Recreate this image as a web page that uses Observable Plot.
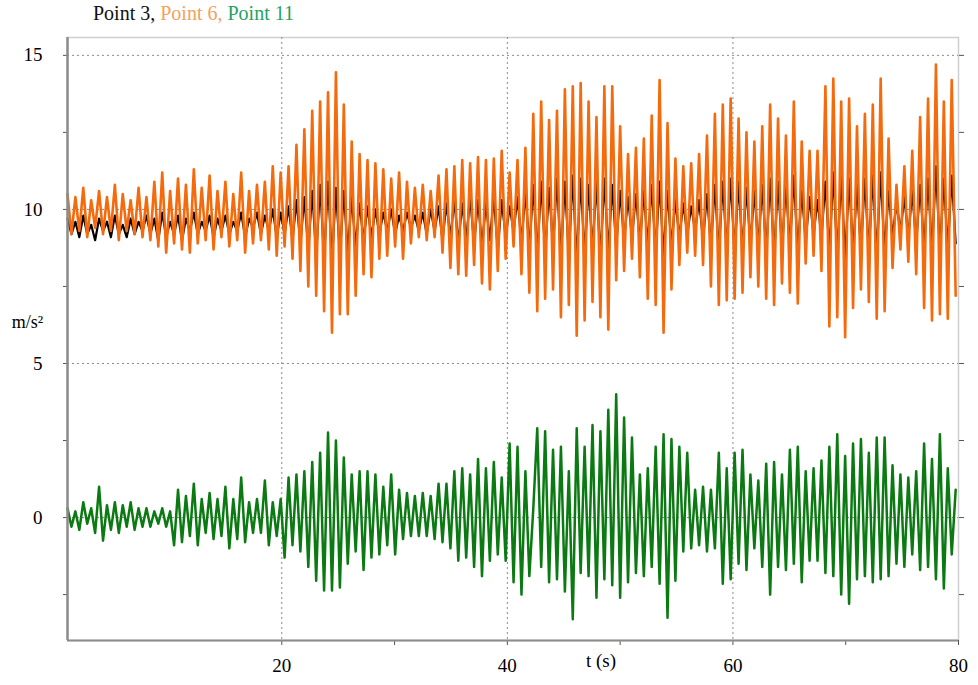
<!DOCTYPE html>
<html><head><meta charset="utf-8">
<script src="https://cdn.jsdelivr.net/npm/d3@7"></script>
<script src="https://cdn.jsdelivr.net/npm/@observablehq/plot@0.6"></script>
<style>
body{margin:0;background:#fff;font-family:"Liberation Serif","Times New Roman",serif;}
#wrap{position:relative;width:978px;height:685px;overflow:hidden;}
#title{position:absolute;left:93px;top:3px;font-size:20px;line-height:1;white-space:nowrap;}
#chart{position:absolute;left:0;top:0;}
</style></head><body>
<div id="wrap">
<div id="chart"></div>
<div id="title"><span style="color:#111">Point 3, </span><span style="color:#f2a25c">Point 6, </span><span style="color:#1fa35f">Point 11</span></div>
</div>
<script>
// sampling: first sample time (s) and step (s)
const t0 = 1, dt = 0.35;
const seriesNames = ["Point 3", "Point 6", "Point 11"];
const seriesColors = ["#000000", "#f46a0c", "#0b7a12"];

// Point 3 (m/s^2)
const point3 = [
9.7,9.2,9.6,9.1,9.8,9.2,9.5,9.0,9.7,9.3,
9.6,9.1,9.8,9.2,9.5,9.1,9.7,9.2,9.6,9.3,
9.8,9.2,9.7,9.0,9.9,9.1,9.6,9.2,9.8,9.0,
9.7,9.3,9.9,9.2,9.6,9.3,9.8,9.1,9.7,9.3,
9.8,9.2,9.6,9.3,9.9,9.1,9.7,9.4,9.9,9.2,
9.8,9.3,10.0,9.1,9.9,9.2,10.1,9.0,10.3,8.9,
10.4,8.7,10.6,8.5,10.8,8.4,10.9,8.3,10.7,8.5,
10.6,8.6,10.4,8.8,10.2,9.0,10.1,9.1,10.0,9.2,
9.9,9.3,10.0,9.2,9.8,9.3,9.9,9.4,9.8,9.3,
9.9,9.2,10.0,9.3,10.1,9.0,10.2,9.1,10.3,8.9,
10.2,9.0,10.4,8.9,10.3,8.8,10.2,9.0,10.4,8.7,
10.3,9.1,10.1,9.3,10.4,8.9,10.6,8.7,10.8,8.5,
10.9,8.6,10.7,8.8,11.0,8.4,10.9,8.5,11.1,8.3,
11.0,8.5,10.8,8.7,10.9,8.4,11.0,8.6,10.8,8.8,
10.6,9.0,10.4,9.1,10.5,8.9,10.6,8.8,10.8,8.6,
10.9,8.5,10.6,8.8,10.3,9.1,10.2,9.2,10.1,9.3,
10.3,9.0,10.5,8.8,10.8,8.6,10.9,8.7,11.0,8.6,
10.9,8.7,10.7,8.9,10.6,8.8,10.8,8.6,11.0,8.5,
10.9,8.7,10.8,8.8,11.1,8.6,10.6,9.0,10.4,9.2,
10.3,9.1,10.9,8.6,11.2,8.5,11.1,8.4,11.0,8.6,
10.8,8.7,11.0,8.6,11.1,8.5,11.2,8.6,10.6,9.1,
10.2,9.3,10.4,9.1,10.6,8.9,10.8,8.7,11.0,8.6,
11.4,8.6,11.0,8.7,11.1,8.9
];

// Point 6 (m/s^2)
const point6 = [
10.5,9.2,10.4,9.3,10.7,9.1,10.3,9.4,10.6,9.2,
10.4,9.3,10.8,9.0,10.5,9.3,10.3,9.2,10.7,9.1,
10.4,9.0,10.9,8.8,11.2,8.6,10.6,8.9,11.0,8.7,
10.8,8.6,11.3,8.9,10.7,9.0,11.1,8.7,10.6,9.1,
10.9,8.8,10.5,9.0,11.2,8.6,10.6,8.9,10.8,9.0,
10.9,8.7,11.4,8.5,11.2,8.8,11.4,8.4,12.1,8.0,
12.6,7.5,13.2,7.2,13.5,6.7,13.8,6.0,14.45,6.6,
13.4,6.6,12.2,7.2,11.8,7.9,11.6,7.8,11.5,8.4,
11.3,8.5,11.0,8.8,11.2,8.4,10.9,8.9,10.7,9.1,
10.8,9.0,10.6,9.1,11.1,8.6,11.3,8.1,11.4,7.9,
11.6,7.85,11.5,8.2,11.7,7.6,11.6,7.4,11.65,8.0,
11.9,8.4,11.2,8.8,11.6,7.9,12.0,7.3,13.1,6.7,
13.5,7.1,12.9,7.4,13.2,6.5,13.9,6.9,14.0,5.9,
14.1,6.4,13.5,7.0,13.0,6.5,14.0,6.1,14.0,7.7,
12.7,8.0,11.8,8.4,12.0,7.8,12.3,7.1,13.05,6.9,
14.2,6.0,12.8,7.4,11.65,8.2,11.4,8.6,11.5,8.5,
11.8,8.2,12.4,7.5,13.1,6.9,13.4,7.05,13.6,7.1,
12.95,7.3,12.5,7.8,12.2,7.5,12.7,7.1,13.4,6.9,
12.95,7.6,12.4,7.3,13.5,6.95,12.2,8.25,11.9,8.5,
11.9,8.0,14.0,6.2,14.25,6.5,13.5,5.85,13.6,6.8,
12.7,7.4,13.1,7.0,13.4,6.45,14.25,6.7,12.3,8.1,
10.8,8.7,11.4,8.3,11.9,7.9,13.0,6.8,13.6,6.4,
14.7,6.6,13.5,6.45,14.2,7.2
];

// Point 11 (m/s^2)
const point11 = [
0.3,-0.3,0.2,-0.4,0.5,-0.2,0.3,-0.5,1.0,-0.75,
0.4,-0.4,0.5,-0.5,0.4,-0.3,0.5,-0.4,0.3,-0.3,
0.3,-0.3,0.2,-0.2,0.3,-0.3,0.2,-0.9,0.9,-0.8,
0.7,-0.6,1.1,-0.9,0.6,-0.5,0.8,-0.7,0.6,-0.6,
1.0,-1.0,0.6,-0.7,1.3,-0.8,0.5,-0.5,0.6,-0.5,
1.2,-0.9,0.5,-0.6,0.6,-1.3,1.3,-0.9,1.4,-1.1,
1.5,-1.6,1.8,-2.05,2.1,-2.37,2.76,-2.37,2.5,-2.27,
1.95,-1.5,1.4,-1.1,1.5,-1.7,1.5,-1.3,1.4,-1.2,
1.0,-0.9,1.4,-1.2,0.9,-0.7,0.8,-0.6,0.7,-0.6,
0.8,-0.6,0.7,-0.7,1.1,-0.8,1.1,-1.0,1.5,-1.4,
1.6,-1.3,1.4,-1.6,1.9,-1.9,1.6,-1.4,1.8,-1.2,
1.3,-1.4,2.4,-2.1,2.3,-2.5,1.5,-1.9,0.3,2.9,
-1.6,2.8,-2.1,2.2,-2.0,2.3,-2.4,1.5,-3.3,2.9,
-1.8,2.3,-1.9,3.0,-2.6,2.8,-2.0,3.5,-2.2,4.0,
-2.6,3.25,-2.1,2.6,-1.8,1.4,-1.9,1.6,-1.6,2.3,
-2.15,2.7,-3.25,2.55,-2.05,2.3,-1.1,2.1,-1.0,0.9,
-0.9,1.0,-1.1,0.9,-1.0,2.1,-2.15,1.6,-2.0,2.1,
-1.5,2.2,-1.7,1.4,-1.0,1.2,-1.6,1.75,-2.5,1.8,
-1.6,1.4,-1.7,2.2,-1.5,2.3,-2.1,1.5,-1.4,1.6,
-1.4,1.85,-1.8,2.3,-1.9,2.7,-2.5,2.0,-2.8,2.4,
-2.0,2.55,-1.9,2.1,-2.1,2.6,-2.0,2.6,-1.9,1.7,
-1.5,1.4,-1.6,1.3,-1.2,1.5,-1.7,2.4,-1.6,1.9,
-2.0,2.7,-2.3,1.6,-1.2,0.9
];

const xLabelTicks = [20, 40, 60, 80];
const xMinorTicks = [20, 30, 40, 50, 60, 70, 80];
const xGrid = [20, 40, 60];
const yLabelTicks = [0, 5, 10, 15];
const yMinorTicks = [-2.5, 0, 2.5, 5, 7.5, 10, 12.5, 15];
const xTitle = "t (s)";
const yTitle = "m/s\u00b2";

const toRows = (arr, name) => arr.map((v, i) => ({t: t0 + i * dt, v, name}));
const d3rows = toRows(point3, seriesNames[0]);
const d6rows = toRows(point6, seriesNames[1]);
const d11rows = toRows(point11, seriesNames[2]);

const font = '"Liberation Serif","Times New Roman",serif';
const chart = Plot.plot({
  width: 978, height: 685,
  marginLeft: 67, marginRight: 20, marginTop: 37, marginBottom: 45,
  style: {fontFamily: font, fontSize: "19px", color: "#000", background: "#fff"},
  x: {domain: [1, 80]},
  y: {domain: [-3.99, 15.58]},
  marks: [
    Plot.frame({stroke: "#cfcfcf", strokeWidth: 1.5}),
    Plot.ruleX(xGrid, {stroke: "#8a8a8a", strokeDasharray: "2,3", strokeWidth: 1}),
    Plot.ruleY(yLabelTicks, {stroke: "#8a8a8a", strokeDasharray: "2,3", strokeWidth: 1}),
    Plot.line(d3rows, {x: "t", y: "v", stroke: seriesColors[0], strokeWidth: 2.2}),
    Plot.line(d6rows, {x: "t", y: "v", stroke: seriesColors[1], strokeWidth: 2.6}),
    Plot.line(d11rows, {x: "t", y: "v", stroke: seriesColors[2], strokeWidth: 2.5}),
    Plot.axisY({ticks: yMinorTicks, tickSize: 4, tickFormat: () => "", label: null, stroke: "#555"}),
    Plot.axisY({anchor: "right", ticks: yMinorTicks, tickSize: 5, tickFormat: () => "", label: null, stroke: "#555"}),
    Plot.axisY({ticks: yLabelTicks, tickSize: 0, tickPadding: 25, label: null, fontSize: 19, fontFamily: font}),
    Plot.axisX({ticks: xMinorTicks, tickSize: 5, tickFormat: () => "", label: null, stroke: "#555"}),
    Plot.axisX({ticks: xLabelTicks, tickSize: 0, tickPadding: 18, label: null, fontSize: 19, fontFamily: font}),
    Plot.ruleX([1], {stroke: "#8c8c8c", strokeWidth: 2.5}),
    Plot.ruleY([-3.99], {stroke: "#8c8c8c", strokeWidth: 2}),
    Plot.text([xTitle], {x: () => 48.3, frameAnchor: "bottom", dy: 26, fontSize: 19, fontFamily: font}),
    Plot.text([yTitle], {y: () => 6.33, frameAnchor: "left", textAnchor: "middle", dx: -40, fontSize: 18, fontFamily: font})
  ]
});
document.getElementById("chart").appendChild(chart);
</script>
</body></html>
